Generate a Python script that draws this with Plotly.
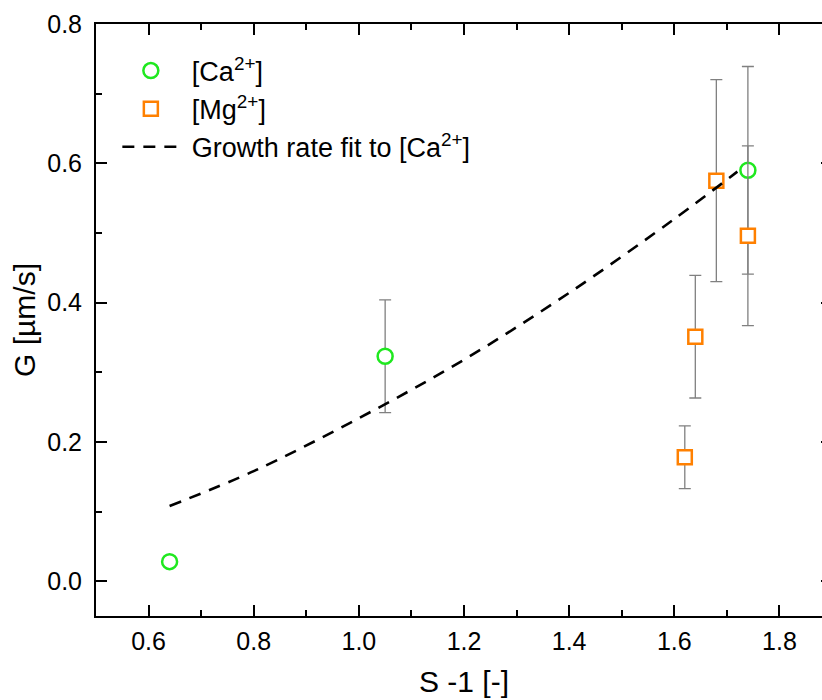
import plotly.graph_objects as go

# ---- data ----
ca_x = [0.64, 1.05, 1.74]
ca_y = [0.028, 0.323, 0.590]
ca_err = [0.004, 0.081, 0.149]

mg_x = [1.62, 1.64, 1.68, 1.74]
mg_y = [0.178, 0.351, 0.575, 0.496]
mg_err = [0.045, 0.088, 0.145, 0.129]

fit_x = [0.64, 0.80, 1.00, 1.20, 1.40, 1.60, 1.72]
fit_y = [0.108, 0.158, 0.234, 0.318, 0.414, 0.520, 0.588]

x_ticks = [0.6, 0.8, 1.0, 1.2, 1.4, 1.6, 1.8]
y_ticks = [0.0, 0.2, 0.4, 0.6, 0.8]

FONT = "Liberation Sans, Arial, sans-serif"
GREEN = "#1fe81f"
ORANGE = "#ff8000"
ERR = "#808080"
PAD = "\u00a0"

fig = go.Figure()
fig.add_trace(go.Scatter(
    x=ca_x, y=ca_y, mode="markers", name=PAD + "[Ca<sup>2+</sup>]",
    marker=dict(symbol="circle", size=15, color="white",
                line=dict(color=GREEN, width=2.5)),
    error_y=dict(type="data", array=ca_err, color=ERR, thickness=1.3, width=6),
))
fig.add_trace(go.Scatter(
    x=mg_x, y=mg_y, mode="markers", name=PAD + "[Mg<sup>2+</sup>]",
    marker=dict(symbol="square", size=14, color="white",
                line=dict(color=ORANGE, width=2.5)),
    error_y=dict(type="data", array=mg_err, color=ERR, thickness=1.3, width=6),
))
fig.add_trace(go.Scatter(
    x=fit_x, y=fit_y, mode="lines", name=PAD + "Growth rate fit to [Ca<sup>2+</sup>]",
    line=dict(color="black", width=2.6, dash="12px,9px", shape="spline"),
))

axis_common = dict(
    showline=True, linecolor="black", linewidth=2, mirror="allticks",
    ticks="inside", ticklen=11, tickwidth=2, tickcolor="black",
    showgrid=False, zeroline=False, automargin=False,
    tickfont=dict(family=FONT, size=25, color="black"),
    minor=dict(ticks="inside", ticklen=6, tickwidth=2, tickcolor="black", dtick=0.1),
)

fig.update_xaxes(
    range=[0.5, 1.9], tickvals=x_ticks, ticktext=[f"{v:.1f}" for v in x_ticks],
    title=dict(text="S -1 [-]", font=dict(family=FONT, size=30, color="black"), standoff=17),
    ticklabelstandoff=2,
    **axis_common,
)
fig.update_yaxes(
    range=[-0.05, 0.8], tickvals=y_ticks, ticktext=[f"{v:.1f}" for v in y_ticks],
    title=dict(text="G [µm/s]", font=dict(family=FONT, size=30, color="black"), standoff=3),
    ticklabelstandoff=7,
    **axis_common,
)

fig.update_layout(
    width=840, height=700,
    margin=dict(l=96, r=8, t=24, b=84),
    plot_bgcolor="white", paper_bgcolor="white",
    font=dict(family=FONT, color="black"),
    showlegend=True,
    legend=dict(x=0.029, y=0.962, xanchor="left", yanchor="top",
                bgcolor="rgba(0,0,0,0)", font=dict(family=FONT, size=27, color="black"),
                itemwidth=57, tracegroupgap=0),
)

fig.write_html("out.html", config={"displayModeBar": False},
               post_script="document.body.style.margin='0';document.body.style.overflow='hidden';")
